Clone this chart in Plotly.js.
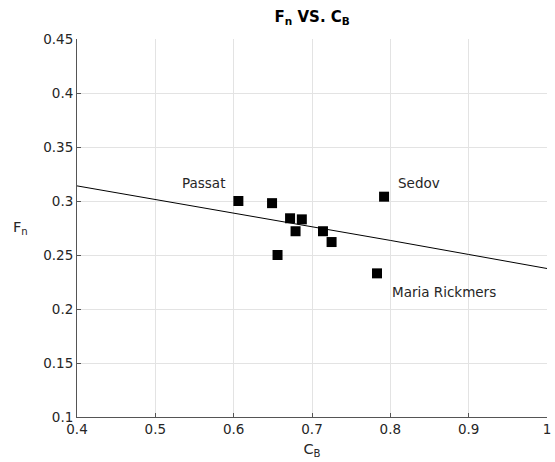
<!DOCTYPE html>
<html>
<head>
<meta charset="utf-8">
<script src="https://cdn.plot.ly/plotly-3.0.1.min.js"></script>
<style>html,body{margin:0;padding:0;background:#fff;}#chart{width:555px;height:462px;}</style>
</head>
<body>
<div id="chart"></div>
<script>
// Ship data: block coefficient C_B and Froude number F_n
const shipCB = [0.606, 0.649, 0.672, 0.687, 0.679, 0.714, 0.725, 0.656, 0.792, 0.783];
const shipFn = [0.300, 0.298, 0.284, 0.283, 0.272, 0.272, 0.262, 0.250, 0.304, 0.233];

// Trend line
const lineCB = [0.4, 0.5, 0.6, 0.7, 0.8, 0.9, 1.0];
const lineFn = [0.314, 0.3015, 0.289, 0.2765, 0.2635, 0.2505, 0.2375];

// Labels
const labelText = ["Passat", "Sedov", "Maria Rickmers"];
const labelCB = [0.531, 0.807, 0.799];
const labelFn = [0.3164, 0.3164, 0.216];

const xTicks = [0.4, 0.5, 0.6, 0.7, 0.8, 0.9, 1];
const xTickText = ["0.4", "0.5", "0.6", "0.7", "0.8", "0.9", "1"];
const yTicks = [0.1, 0.15, 0.2, 0.25, 0.3, 0.35, 0.4, 0.45];
const yTickText = ["0.1", "0.15", "0.2", "0.25", "0.3", "0.35", "0.4", "0.45"];

const FONT = "DejaVu Sans, sans-serif";
const TXT = "#262626";

const traces = [
  {x: lineCB, y: lineFn, mode: "lines", type: "scatter",
   line: {color: "#000", width: 1}, hoverinfo: "skip"},
  {x: shipCB, y: shipFn, mode: "markers", type: "scatter",
   marker: {symbol: "square", size: 10, color: "#000"}}
];

const annotations = labelText.map((t, i) => ({
  x: labelCB[i], y: labelFn[i], xref: "x", yref: "y", text: t,
  showarrow: false, xanchor: "left", yanchor: "middle",
  font: {family: FONT, size: 13.5, color: TXT}
}));
// horizontal y-axis label
annotations.push({
  x: -0.121, y: 0.5, xref: "paper", yref: "paper", text: "F<sub>n</sub>",
  showarrow: false, xanchor: "center", yanchor: "middle",
  font: {family: FONT, size: 14.5, color: TXT}
});

const axisCommon = {
  showgrid: true, gridcolor: "#e3e3e3", gridwidth: 1,
  showline: true, linecolor: "#555", linewidth: 1,
  ticks: "inside", ticklen: 4, tickcolor: "#555", tickwidth: 1,
  zeroline: false, mirror: false,
  tickfont: {family: FONT, size: 13.5, color: TXT}
};

const layout = {
  width: 555, height: 462,
  margin: {l: 77, r: 8, t: 39, b: 45},
  paper_bgcolor: "#fff", plot_bgcolor: "#fff",
  showlegend: false,
  title: {text: "<b>F<sub>n</sub> VS. C<sub>B</sub></b>",
          font: {family: FONT, size: 15, color: "#000"},
          x: 0.5625, xanchor: "center", y: 0.975, yanchor: "top"},
  xaxis: Object.assign({}, axisCommon, {
    range: [0.4, 1], tickvals: xTicks, ticktext: xTickText,
    title: {text: "C<sub>B</sub>", font: {family: FONT, size: 14.5, color: TXT}, standoff: 7}
  }),
  yaxis: Object.assign({}, axisCommon, {
    range: [0.1, 0.45], tickvals: yTicks, ticktext: yTickText
  }),
  annotations: annotations
};

Plotly.newPlot("chart", traces, layout, {displayModeBar: false, staticPlot: true});
</script>
</body>
</html>
